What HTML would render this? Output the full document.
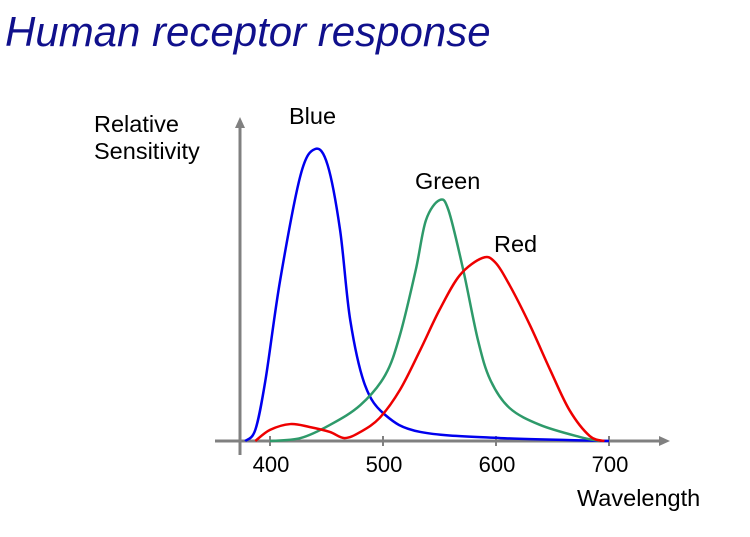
<!DOCTYPE html>
<html><head><meta charset="utf-8"><style>
body{margin:0;background:#fff;}
svg{display:block;font-family:"Liberation Sans",sans-serif;}
</style></head><body>
<svg width="750" height="537" viewBox="0 0 750 537">
<text x="5" y="46" font-size="42" font-style="italic" fill="#10108c">Human receptor response</text>
<g id="axes">
<line x1="215" y1="441" x2="662" y2="441" stroke="#808080" stroke-width="3"/>
<polygon points="670,441 659,436 659,446" fill="#808080"/>
<line x1="240" y1="455" x2="240" y2="126" stroke="#808080" stroke-width="3"/>
<polygon points="240,117 235,128 245,128" fill="#808080"/>
</g>
<text x="94" y="132" font-size="23.5">Relative</text>
<text x="94" y="159" font-size="23.5">Sensitivity</text>
<text x="577" y="506" font-size="23.5">Wavelength</text>
<text x="289" y="124" font-size="23.5">Blue</text>
<text x="415" y="189" font-size="23.5">Green</text>
<text x="494" y="252" font-size="23.5">Red</text>
<g id="ticks"></g>
<g id="series"></g>
</svg>
<script>
const tickValues=[400,500,600,700];
const blueX=[378,387,396,409,427,440,451,462,471,484,502,533,604,700];
const blueY=[0,0.038,0.209,0.551,0.91,1,0.945,0.723,0.414,0.192,0.089,0.031,0.01,0];
const greenX=[400,427,453,480,502,515,529,538,550,558,571,584,595,612,639,674,692];
const greenY=[0,0.01,0.055,0.123,0.226,0.363,0.586,0.756,0.825,0.79,0.586,0.346,0.209,0.113,0.055,0.014,0];
const redX=[387,400,418,435,453,466,480,497,515,533,550,568,588,599,612,630,648,665,683,696];
const redY=[0,0.038,0.058,0.048,0.031,0.01,0.031,0.079,0.175,0.312,0.449,0.568,0.627,0.613,0.534,0.397,0.243,0.106,0.017,0];
const NS="http://www.w3.org/2000/svg";
function sx(l){return 270+(l-400)*1.13;}
function sy(v){return 441-v*292;}
const tg=document.getElementById('ticks');
tickValues.forEach(t=>{
 const ln=document.createElementNS(NS,'line');
 ln.setAttribute('x1',sx(t));ln.setAttribute('x2',sx(t));ln.setAttribute('y1',436);ln.setAttribute('y2',446);
 ln.setAttribute('stroke','#808080');ln.setAttribute('stroke-width','2');
 
 
 tg.appendChild(ln);
 const tx=document.createElementNS(NS,'text');
 tx.setAttribute('x',sx(t)+1);tx.setAttribute('y',472);tx.setAttribute('font-size','22');tx.setAttribute('text-anchor','middle');
 tx.textContent=t;
 
 
 tg.appendChild(tx);
});
function pathFor(xs,ys){
 const p=xs.map((x,i)=>[sx(x),sy(ys[i])]);
 let d='M'+p[0][0]+','+p[0][1];
 for(let i=0;i<p.length-1;i++){
  const p0=p[i-1]||p[i],p1=p[i],p2=p[i+1],p3=p[i+2]||p2;
  const c1=[p1[0]+(p2[0]-p0[0])/6,p1[1]+(p2[1]-p0[1])/6];
  const c2=[p2[0]-(p3[0]-p1[0])/6,p2[1]-(p3[1]-p1[1])/6];
  d+=' C'+c1+' '+c2+' '+p2;
 }
 return d;
}
const sg=document.getElementById('series');
[[blueX,blueY,'#0000ee','blue-curve'],[greenX,greenY,'#2e9a6a','green-curve'],[redX,redY,'#ee0000','red-curve']].forEach(s=>{
 const pa=document.createElementNS(NS,'path');
 pa.setAttribute('d',pathFor(s[0],s[1]));
 pa.setAttribute('fill','none');pa.setAttribute('stroke',s[2]);pa.setAttribute('stroke-width','2.5');
 
 
 sg.appendChild(pa);
});
</script>
</body></html>
